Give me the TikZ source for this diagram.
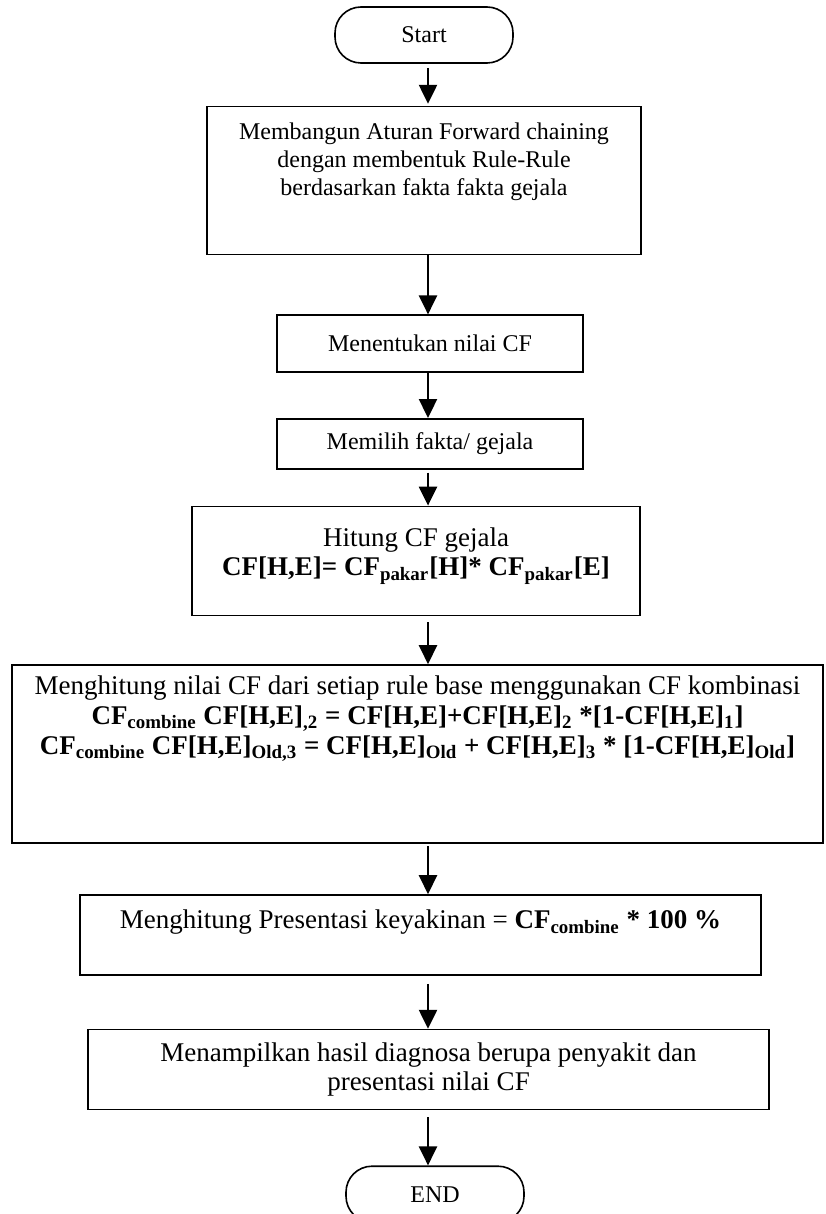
\documentclass[tikz,border=0pt]{standalone}
\usepackage{fontspec}
\setmainfont{Liberation Serif}
\usetikzlibrary{arrows.meta}
\usetikzlibrary{positioning}

\newcommand{\fsmall}{\fontsize{12}{14}\selectfont}
\newcommand{\fbig}{\fontsize{13.5}{15}\selectfont}
\newcommand{\fbigtight}{\fontsize{13.5}{14.5}\selectfont}

\tikzset{
  box/.style={draw,line width=0.8pt,inner sep=0pt,align=center},
  term/.style={draw,line width=0.8pt,rounded corners=13pt,minimum width=89pt,minimum height=28pt,font=\fsmall},
  txt/.style={inner sep=0pt,align=center,anchor=north},
  arr/.style={line width=1.2pt,-{Triangle[length=9.5pt,width=9pt]}},
}

\begin{document}
\begin{tikzpicture}
    \useasboundingbox (0,0) rectangle (412.5pt,-607pt);
    \coordinate (ax) at (214pt,0);
    \node[term] (start) at (212pt,-17.5pt) {Start};
    \node[box,below=21pt of start,minimum width=217pt,minimum height=74pt,
      label={[txt,font=\fsmall,yshift=-8.3pt]north:{Membangun Aturan Forward chaining\\dengan membentuk Rule-Rule\\berdasarkan fakta fakta gejala}}] (rules) {};
    \node[box,below=29.5pt of rules,xshift=3pt,minimum width=153pt,minimum height=28.5pt,font=\fsmall] (cf) {Menentukan nilai CF};
    \node[box,below=22.5pt of cf,minimum width=153pt,minimum height=25pt,font=\fsmall] (fakta) {Memilih fakta/ gejala};
    \node[box,below=18pt of fakta,xshift=-7pt,minimum width=224pt,minimum height=54.5pt,
      label={[txt,font=\fbigtight,yshift=-11pt]north:{Hitung CF gejala\\\textbf{CF[H,E]= CF\textsubscript{pakar}[H]* CF\textsubscript{pakar}[E]}}}] (hitung) {};
    \node[box,line width=1pt,below=24pt of hitung,xshift=0.75pt,minimum width=405.5pt,minimum height=89pt,
      label={[txt,font=\fbig,yshift=-5.5pt]north:{Menghitung nilai CF dari setiap rule base menggunakan CF kombinasi\\\textbf{CF\textsubscript{combine} CF[H,E]\textsubscript{,2} = CF[H,E]+CF[H,E]\textsubscript{2} *[1-CF[H,E]\textsubscript{1}]}\\\textbf{CF\textsubscript{combine} CF[H,E]\textsubscript{Old,3} = CF[H,E]\textsubscript{Old} + CF[H,E]\textsubscript{3} * [1-CF[H,E]\textsubscript{Old}]}}}] (kombinasi) {};
    \node[box,below=25pt of kombinasi,xshift=1.5pt,minimum width=340.5pt,minimum height=40pt,
      label={[txt,font=\fbig,yshift=-7.8pt]north:{Menghitung Presentasi keyakinan = \textbf{CF\textsubscript{combine} * 100 \%}}}] (persen) {};
    \node[box,below=26.5pt of persen,xshift=4pt,minimum width=340.5pt,minimum height=40pt,font=\fbigtight] (hasil) {Menampilkan hasil diagnosa berupa penyakit dan\\presentasi nilai CF};
    \node[term,below=27.5pt of hasil,xshift=3.25pt] (end) {END};
    \draw[arr,shorten <=2pt,shorten >=1pt] (start.south -| ax) -- (rules.north -| ax);
    \draw[arr] (rules.south -| ax) -- (cf.north -| ax);
    \draw[arr] (cf.south -| ax) -- (fakta.north -| ax);
    \draw[arr,shorten <=1.5pt] (fakta.south -| ax) -- (hitung.north -| ax);
    \draw[arr,shorten <=3pt] (hitung.south -| ax) -- (kombinasi.north -| ax);
    \draw[arr,shorten <=1pt] (kombinasi.south -| ax) -- (persen.north -| ax);
    \draw[arr,shorten <=4pt] (persen.south -| ax) -- (hasil.north -| ax);
    \draw[arr,shorten <=3.5pt] (hasil.south -| ax) -- (end.north -| ax);
\end{tikzpicture}
\end{document}
